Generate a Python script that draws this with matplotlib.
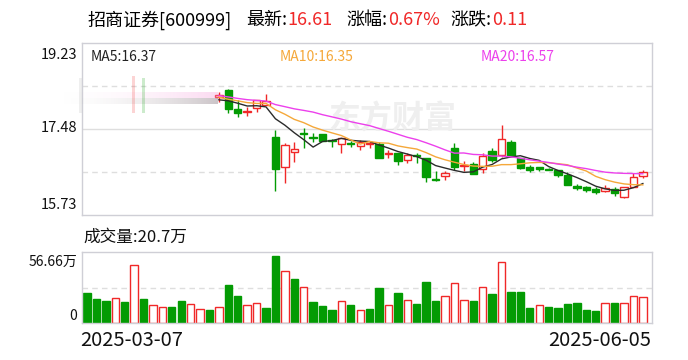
import numpy as np
import matplotlib
matplotlib.use("Agg")
import matplotlib.pyplot as plt
from matplotlib.patches import Rectangle

plt.rcParams['font.family'] = ['Noto Sans CJK SC', 'DejaVu Sans']

# ---------------- data ----------------
# closes before the 60-day window (only used for moving averages)
pre_close = [18.45, 18.40, 18.35, 18.38, 18.32]
# closes of the first 14 days of the window (candles hidden by the fade effect)
hidden_close = [18.10, 18.00, 17.95, 18.02, 17.98, 18.30, 18.12, 18.20, 18.25, 18.03,
                17.98, 18.05, 18.12, 18.05]
# visible candles (window days 14..59)
opens = [18.13, 18.27, 17.88, 17.83, 17.90, 17.96, 17.32, 16.70, 17.02, 17.40,
         17.31, 17.37, 17.25, 17.17, 17.20, 17.13, 17.18, 17.18, 16.97, 17.00,
         16.84, 16.96, 16.88, 16.46, 16.52, 17.09, 16.72, 16.76, 16.66, 17.03,
         16.95, 17.22, 16.89, 16.71, 16.71, 16.67, 16.65, 16.54, 16.32, 16.29,
         16.26, 16.21, 16.26, 16.10, 16.30, 16.52]
highs = [18.24, 18.29, 18.06, 17.93, 18.08, 18.19, 17.46, 17.19, 17.21, 17.50,
         17.39, 17.38, 17.27, 17.30, 17.24, 17.26, 17.24, 17.22, 17.05, 17.00,
         16.99, 16.99, 16.88, 16.62, 16.63, 17.19, 16.83, 16.80, 16.99, 17.10,
         17.56, 17.26, 16.90, 16.75, 16.71, 16.68, 16.65, 16.60, 16.36, 16.31,
         16.29, 16.35, 16.29, 16.29, 16.58, 16.65]
lows = [18.02, 17.80, 17.72, 17.74, 17.83, 17.96, 16.22, 16.39, 16.80, 17.09,
        17.22, 17.24, 17.11, 16.99, 17.11, 17.05, 17.10, 16.88, 16.88, 16.75,
        16.78, 16.78, 16.41, 16.43, 16.44, 16.64, 16.62, 16.56, 16.58, 16.80,
        16.92, 16.94, 16.66, 16.61, 16.62, 16.64, 16.51, 16.34, 16.24, 16.20,
        16.16, 16.19, 16.12, 16.08, 16.30, 16.49]
closes = [18.17, 17.88, 17.80, 17.84, 18.08, 18.05, 16.67, 17.15, 17.07, 17.38,
          17.29, 17.24, 17.24, 17.30, 17.18, 17.21, 17.20, 16.88, 16.99, 16.83,
          16.95, 16.94, 16.51, 16.45, 16.58, 16.71, 16.74, 16.56, 16.93, 16.85,
          17.28, 16.94, 16.68, 16.65, 16.66, 16.65, 16.54, 16.34, 16.27, 16.24,
          16.19, 16.27, 16.18, 16.29, 16.50, 16.61]
# volume, 万 shares (all 60 days)
volume = [24.2, 19.2, 17.6, 19.7, 16.8, 46.3, 19.2, 14.1, 12.5, 12.8,
          17.6, 15.2, 10.9, 10.4, 12.5, 30.3, 21.5, 14.1, 16.0, 12.0,
          53.5, 41.3, 35.1, 28.5, 16.8, 13.6, 10.4, 17.3, 14.4, 10.1,
          11.2, 27.9, 14.1, 23.9, 18.1, 15.2, 32.7, 17.6, 21.3, 31.7,
          18.1, 17.6, 28.5, 23.1, 48.4, 24.7, 24.7, 12.0, 14.1, 12.8,
          12.0, 15.2, 16.0, 10.4, 9.6, 16.0, 16.0, 16.0, 21.3, 20.7]

date_labels = ["2025-03-07", "2025-06-05"]
price_ticks = [19.23, 17.48, 15.73]
vol_max = 56.66
name = "招商证券[600999]"
last_price, pct_chg, chg = "16.61", "0.67%", "0.11"
ma_labels = ["MA5:16.37", "MA10:16.35", "MA20:16.57"]

# ---------------- styling ----------------
RED = '#f02828'
GREEN = '#039b03'
MA_COLORS = ['#2b2b2b', '#f5a83a', '#ec40ec']
GRID = '#dedede'
BORDER = '#cfcfd6'
W, H = 688, 360

fig = plt.figure(figsize=(W / 100, H / 100), dpi=100)
fig.patch.set_facecolor('white')


def fx(x):
    return x / W


def fy(y):
    return 1 - y / H


n_hidden = len(hidden_close)
n_all = len(volume)
xi = np.arange(n_all)
xv = xi[n_hidden:]
o = np.array(opens); h = np.array(highs); l = np.array(lows); c = np.array(closes)

series = np.array(pre_close + hidden_close + closes)
off = len(pre_close)


def ma(n):
    return np.array([series[off + i - n + 1: off + i + 1].mean() for i in range(n_hidden, n_all)])


XL = (-0.584, 59.94)

# ---------- price panel ----------
ax = fig.add_axes([fx(81.5), fy(215), fx(651.7) - fx(81.5), fy(43) - fy(215)])
ax.set_xlim(*XL)
ax.set_ylim(price_ticks[2], price_ticks[0])
ax.set_xticks([]); ax.set_yticks([])
for s in ax.spines.values():
    s.set_color(BORDER); s.set_linewidth(1)
q = (price_ticks[0] - price_ticks[2]) / 4
ax.axhline(price_ticks[1], color=GRID, lw=1, zorder=0)
for yy in (price_ticks[2] + q, price_ticks[0] - q):
    ax.axhline(yy, color=GRID, lw=1, ls=(0, (4, 3)), zorder=0)

# watermark
ax.text(fx(392), fy(120), "东方财富", transform=fig.transFigure, ha='center', va='center',
        fontsize=23, color='#efefef', fontweight='bold', zorder=0.5)

bw = 0.78
up = c >= o
body_lo = np.minimum(o, c)
body_hi = np.maximum(o, c)
hgt = np.maximum(body_hi - body_lo, 0.004)
colors = np.where(up, RED, GREEN)
ax.vlines(xv, l, body_lo, colors=colors, lw=1, zorder=2)
ax.vlines(xv, body_hi, h, colors=colors, lw=1, zorder=2)
ax.bar(xv, hgt, bottom=body_lo, width=bw, color=np.where(up, 'white', GREEN),
       edgecolor=colors, linewidth=1, zorder=3)

for n, col in zip((5, 10, 20), MA_COLORS):
    ax.plot(xv, ma(n), color=col, lw=1, zorder=4)

# ghost (fade-in) effect on the left
band = np.zeros((12, 200, 4))
ramp = np.linspace(0, 1, 200) ** 2
band[:6, :, :3] = np.array([245, 150, 215]) / 255
band[6:, :, :3] = np.array([110, 90, 100]) / 255
band[:6, :, 3] = ramp * 0.35
band[6:, :, 3] = ramp * 0.35
bax = fig.add_axes([fx(45), fy(104), fx(218) - fx(45), fy(92) - fy(104)])
bax.imshow(band, aspect='auto', interpolation='bilinear')
bax.axis('off')
for xg, yt, col, a in ((80, 78, '#cccccc', 0.3), (133, 76, RED, 0.2), (143, 78, GREEN, 0.2)):
    fig.patches.append(Rectangle((fx(xg - 1.5), fy(113)), fx(3), fy(yt) - fy(113),
                                 transform=fig.transFigure, color=col, alpha=a, lw=0))

# ---------- volume panel ----------
vax = fig.add_axes([fx(81.5), fy(323), fx(651.7) - fx(81.5), fy(252) - fy(323)])
vax.set_xlim(*XL)
vax.set_ylim(0, vol_max)
vax.set_xticks([]); vax.set_yticks([])
for s in vax.spines.values():
    s.set_color(BORDER); s.set_linewidth(1)
vax.axhline(vol_max / 2, color=GRID, lw=1, ls=(0, (4, 3)), zorder=0)
prev = series[off - 1: off - 1 + n_all]
cur = series[off: off + n_all]
vup = cur > prev
vcol = np.where(vup, RED, GREEN)
vax.bar(xi, volume, width=bw, color=np.where(vup, 'white', GREEN), edgecolor=vcol,
        linewidth=1, zorder=2)

# ---------- texts ----------
def T(x, y, s, **kw):
    kw.setdefault('va', 'center')
    fig.text(fx(x), fy(y), s, **kw)

hs = 13
T(88, 20, name, fontsize=hs, color='black')
T(246, 20, "最新:", fontsize=hs, color='black')
T(287, 20, last_price, fontsize=hs, color=RED)
T(346, 20, "涨幅:", fontsize=hs, color='black')
T(388, 20, pct_chg, fontsize=hs, color=RED)
T(450, 20, "涨跌:", fontsize=hs, color='black')
T(492, 20, chg, fontsize=hs, color=RED)

T(91, 57, ma_labels[0], fontsize=10, color='#222222')
T(280, 57, ma_labels[1], fontsize=10, color=MA_COLORS[1])
T(481, 57, ma_labels[2], fontsize=10, color=MA_COLORS[2])

for p, yy in zip(price_ticks, (55, 128, 205)):
    T(77, yy, f"{p:.2f}", fontsize=10.5, ha='right', color='#111111')

T(83, 237, f"成交量:{volume[-1]}万", fontsize=12, color='#111111')
T(77, 262, f"{vol_max}万", fontsize=10, ha='right', color='#111111')
T(77, 316, "0", fontsize=10, ha='right', color='#111111')

T(80, 341, date_labels[0], fontsize=14.5, ha='left', color='#111111')
T(651, 341, date_labels[1], fontsize=14.5, ha='right', color='#111111')

fig.savefig("out.png", dpi=100)
